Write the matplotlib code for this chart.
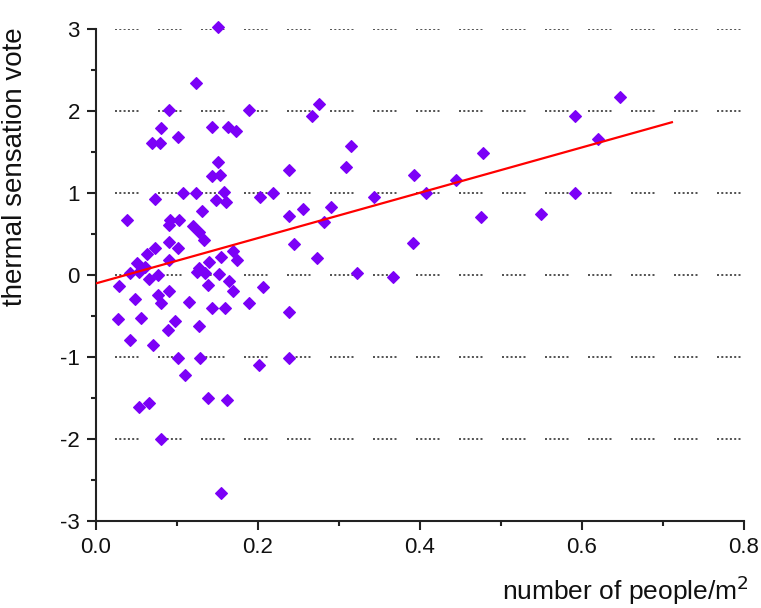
import numpy as np
import matplotlib.pyplot as plt

plt.rcParams['font.family'] = ['Liberation Sans', 'DejaVu Sans']
plt.rcParams['axes.unicode_minus'] = False
plt.rcParams['lines.scale_dashes'] = False

# density (people per m2) and thermal sensation vote
density = [
    0.151, 0.124, 0.090, 0.189, 0.080, 0.070, 0.079, 0.102, 0.144, 0.163,
    0.173, 0.151, 0.144, 0.153, 0.108, 0.124, 0.073, 0.158, 0.148, 0.161,
    0.131, 0.038, 0.092, 0.103, 0.090, 0.120, 0.127, 0.134, 0.090, 0.102,
    0.073, 0.063, 0.170, 0.155, 0.174, 0.090, 0.051, 0.061, 0.140, 0.042,
    0.053, 0.066, 0.077, 0.128, 0.125, 0.135, 0.152, 0.164, 0.029, 0.139,
    0.170, 0.049, 0.077, 0.080, 0.090, 0.115, 0.144, 0.159, 0.189, 0.027,
    0.056, 0.098, 0.089, 0.127, 0.042, 0.071, 0.102, 0.129, 0.110, 0.201,
    0.053, 0.066, 0.139, 0.162, 0.080, 0.155, 0.206, 0.238, 0.238,
    0.275, 0.267, 0.315, 0.238, 0.309, 0.393, 0.478, 0.445, 0.219, 0.203,
    0.343, 0.408, 0.592, 0.592, 0.647, 0.620, 0.238, 0.256, 0.290, 0.282,
    0.245, 0.273, 0.391, 0.475, 0.549, 0.323, 0.367,
]
vote = [
    3.02, 2.34, 2.01, 2.01, 1.79, 1.61, 1.61, 1.68, 1.80, 1.80,
    1.75, 1.37, 1.21, 1.22, 1.00, 1.00, 0.92, 1.01, 0.91, 0.89,
    0.78, 0.67, 0.67, 0.67, 0.61, 0.59, 0.52, 0.43, 0.40, 0.33,
    0.33, 0.26, 0.29, 0.22, 0.18, 0.18, 0.14, 0.10, 0.16, 0.02,
    0.03, -0.05, 0.00, 0.08, 0.03, 0.02, 0.01, -0.08, -0.13, -0.12,
    -0.20, -0.29, -0.25, -0.34, -0.20, -0.33, -0.41, -0.41, -0.34, -0.54,
    -0.53, -0.56, -0.67, -0.62, -0.80, -0.85, -1.01, -1.01, -1.22, -1.10,
    -1.61, -1.56, -1.50, -1.53, -2.00, -2.66, -0.15, -0.45, -1.01,
    2.08, 1.93, 1.57, 1.28, 1.31, 1.22, 1.48, 1.15, 1.00, 0.95,
    0.95, 1.00, 1.00, 1.93, 2.17, 1.65, 0.72, 0.80, 0.83, 0.65,
    0.37, 0.21, 0.39, 0.70, 0.74, 0.02, -0.03,
]

# fitted line as drawn in the figure
fit_x = [0.0, 0.711]
fit_y = [-0.105, 1.86]

fig = plt.figure(figsize=(7.61, 6.08), dpi=100)
ax = fig.add_axes([0.1258, 0.1431, 0.8519, 0.8097])

# dotted grid in short groups, like the original (pattern in pixels -> points)
px = 0.72
grid_dash = (24 * px, tuple(v * px for v in (2.0, 2.3) * 5 + (2.0, 19.5)))
for yv in range(-2, 4):
    ax.axhline(yv, color='#555555', lw=2.0 * px, linestyle=grid_dash,
               dash_capstyle='butt', zorder=1)

ax.plot(density, vote, linestyle='none', marker='D', ms=6.3,
        color='#7B00F7', mec='#7B00F7', mew=0.8, zorder=3, clip_on=False)
ax.plot(fit_x, fit_y, color='#FF0000', lw=1.6, zorder=4)

ax.set_xlim(0, 0.8)
ax.set_ylim(-3, 3)
ax.set_xticks(np.arange(0, 0.81, 0.2))
ax.set_xticks(np.arange(0.1, 0.8, 0.2), minor=True)
ax.set_yticks(range(-3, 4))
ax.set_yticks(np.arange(-2.5, 3, 1.0), minor=True)
ax.set_xticklabels(['0.0', '0.2', '0.4', '0.6', '0.8'])

for side in ('top', 'right'):
    ax.spines[side].set_visible(False)
for side in ('left', 'bottom'):
    ax.spines[side].set_linewidth(1.5)
    ax.spines[side].set_color('#222222')

ax.tick_params(which='major', direction='out', length=6.5, width=1.5,
               color='#222222', labelsize=16, labelcolor='#111111', pad=5)
ax.tick_params(which='minor', direction='out', length=3.4, width=1.5,
               color='#222222')

ax.set_ylabel('thermal sensation vote', fontsize=20, color='#111111')
ax.yaxis.set_label_coords(-0.104, 0.72)
ax.set_xlabel('number of people/m$^2$', fontsize=19, color='#111111',
              ha='right', va='center')
ax.xaxis.set_label_coords(1.008, -0.14)

fig.savefig('out.png', dpi=100)
